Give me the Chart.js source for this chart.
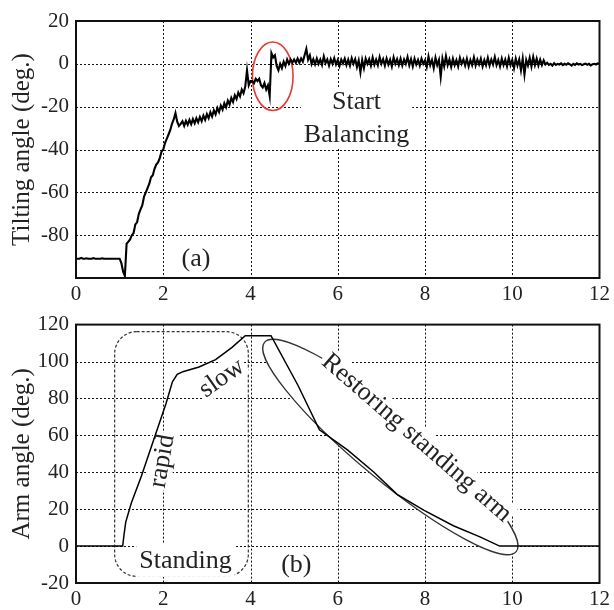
<!DOCTYPE html>
<html><head><meta charset="utf-8">
<script src="https://cdn.jsdelivr.net/npm/chart.js@4"></script>
<style>
html,body{margin:0;padding:0;background:#fff;}
#wrap{position:relative;width:614px;height:610px;overflow:hidden;}
canvas{position:absolute;left:0;}
</style></head><body>
<div id="wrap">
<canvas id="c1" width="614" height="305" style="top:0"></canvas>
<canvas id="c2" width="614" height="305" style="top:305px"></canvas>
</div>
<script>
// ---------- data ----------
const xTicks = [0, 2, 4, 6, 8, 10, 12];
const tiltTicks = [20, 0, -20, -40, -60, -80];
const armTicks = [120, 100, 80, 60, 40, 20, 0, -20];

// (a) tilting angle, sampled every 0.04 s from 0 to 12 s
const tiltStep = 0.04;
const tiltValues = [
  // 0.00 - 0.96
  -91,-91,-91,-90.6,-91,-91,-90.8,-91,-91,-91,-90.7,-91,-91,-91,-91,-90.8,-91,-91,-91,-91,-91,-91,-91,-91,-91,
  // 1.00 - 1.20
  -91,-93,-97,-99,-84,-83,
  // 1.24 - 2.40
  -82,-80,-79,-75,-74,-70,-68,-66,-62,-60,-58,-56,-53,-52,-49,-47,-46,-44,-41,-40,-37,-35,-33,-31,-28,-26,-23,-27,-29,-28,
  // 2.44 - 3.92
  -26.8,-29.0,-26.6,-28.4,-26.2,-28.2,-25.8,-27.8,-25.4,-27.3,-24.8,-26.8,-24.2,-26.2,-23.5,-25.4,-22.6,-24.6,-21.7,-23.6,
  -20.6,-22.5,-19.5,-21.4,-18.4,-20.3,-17.2,-19.0,-15.9,-17.8,-14.7,-16.4,-13.4,-15.2,-12.0,-13.7,-10.6,-3,
  // 3.96 - 4.00
  -10,-8,
  // 4.04 - 5.40
  -8,-9,-7,-8,-7,-10,-11,-9,-12,-10,-15,5,3,4,-1,-3,0,-2,1,-1,2,0,2,0.5,2,0.5,2.5,0.5,2.5,1,4,7,2,4,0,
  // 5.44 - 10.76
  2.2,-0.2,2.5,0,2,-0.5,3.5,0.3,2,-0.8,
  2.2,0,2.6,-0.3,1.8,-1,2,0.2,2.4,-0.6,
  2,-0.8,2.6,0,2.2,-1.5,1.6,-4,1.8,-2,
  2.4,0,2.2,-0.8,3,-0.4,2,-0.6,3.2,0,
  2.2,-0.8,2.5,-0.3,2,-1.2,3,0,2.2,-0.6,
  2.4,-0.8,2,0,3.2,-0.6,2.2,-1.2,2.4,-0.3,
  1.8,-0.8,2.4,0,1.6,-1.4,3.4,-0.6,1.8,-2,
  2.8,-0.6,1.8,-6,2.4,-1.2,3.6,-0.6,2,-1.4,
  2.4,-0.6,1.8,-1.2,2.8,0,2,-0.8,2.4,-1.2,
  1.8,-0.6,3,-0.8,2,-0.3,2.4,-1.2,1.8,-0.6,
  2.8,-0.8,2,-0.3,3.2,-0.6,1.8,-1.2,2.4,-0.6,
  2,-1.2,2.8,-0.6,1.8,-2,2.4,-0.8,2,-3,
  2.4,-5,1.8,-0.8,2.8,-1.2,3.2,-0.6,2.4,-0.8,
  2,-0.6,1.6,-0.3,
  // 10.80 - 12.00
  0.5,-0.5,0,-0.8,0.3,-0.5,0,-0.3,0.2,-0.6,0,-0.4,0.3,-0.2,-0.8,0,-0.5,0.2,-0.3,0,-0.6,-0.2,0.1,-0.4,0,-0.7,-0.2,0,-0.3,0.2,0
];

// (b) arm angle
const armTimes  = [0, 1.07, 1.10, 1.14, 1.27, 1.50, 1.83, 2.06, 2.21, 2.32, 2.45, 2.82, 3.20, 3.57, 3.88, 4.47, 5.09, 5.58, 6.23, 6.83, 7.36, 7.97, 8.65, 9.26, 9.71, 12];
const armValues = [0, 0, 6, 13, 23.5, 38, 61, 77, 89, 93, 94.5, 97, 101, 107.5, 114, 114, 87, 63, 52, 40, 28, 19.5, 11, 5, 0, 0];

// ---------- styling / helpers ----------
const FONT = '"Liberation Serif", "Times New Roman", serif';
Chart.defaults.color = '#222';
Chart.defaults.font.family = FONT;

function drawLabel(ctx, px, py, l) {
  ctx.save();
  ctx.translate(px, py);
  ctx.rotate((l.rot || 0) * Math.PI / 180);
  ctx.font = l.size + 'px ' + FONT;
  const w = Math.max(...l.lines.map(s => ctx.measureText(s).width)) + 2 * l.padX;
  const h = l.lines.length * l.gap + 2 * l.padY;
  ctx.fillStyle = '#fff';
  ctx.fillRect(-w / 2, -h / 2, w, h);
  ctx.fillStyle = '#222';
  ctx.textAlign = 'center';
  ctx.textBaseline = 'middle';
  l.lines.forEach((s, k) => ctx.fillText(s, 0, (k - (l.lines.length - 1) / 2) * l.gap + 1));
  ctx.restore();
}

function notesPlugin(cfg) {
  return {
    id: 'notes',
    beforeDatasetsDraw(chart) {
      const ctx = chart.ctx, xs = chart.scales.x, ys = chart.scales.y, a = chart.chartArea;
      ctx.save();
      ctx.beginPath();
      ctx.rect(a.left, a.top, a.right - a.left, a.bottom - a.top);
      ctx.clip();
      // dotted grid
      ctx.strokeStyle = '#111';
      ctx.lineWidth = 1;
      ctx.setLineDash([2, 2]);
      xTicks.forEach(v => {
        const px = Math.round(xs.getPixelForValue(v)) + 0.5;
        if (px < a.left + 2 || px > a.right - 2) return;
        ctx.beginPath(); ctx.moveTo(px, a.top); ctx.lineTo(px, a.bottom); ctx.stroke();
      });
      ys.ticks.forEach(t => {
        const py = Math.round(ys.getPixelForValue(t.value)) + 0.5;
        if (py < a.top + 2 || py > a.bottom - 2) return;
        ctx.beginPath(); ctx.moveTo(a.left, py); ctx.lineTo(a.right, py); ctx.stroke();
      });
      (cfg.boxes || []).forEach(b => {
        const x0 = xs.getPixelForValue(b.from[0]), y0 = ys.getPixelForValue(b.from[1]);
        const x1 = xs.getPixelForValue(b.to[0]), y1 = ys.getPixelForValue(b.to[1]);
        ctx.beginPath();
        ctx.roundRect(x0, y0, x1 - x0, y1 - y0, b.radius);
        ctx.setLineDash(b.dash);
        ctx.lineWidth = b.width;
        ctx.strokeStyle = b.color;
        ctx.stroke();
      });
      (cfg.ellipses || []).forEach(e => {
        let cx, cy, ra, rb, ang;
        if (e.from) {
          const x1 = xs.getPixelForValue(e.from[0]), y1 = ys.getPixelForValue(e.from[1]);
          const x2 = xs.getPixelForValue(e.to[0]), y2 = ys.getPixelForValue(e.to[1]);
          cx = (x1 + x2) / 2; cy = (y1 + y2) / 2;
          ra = Math.hypot(x2 - x1, y2 - y1) / 2; rb = e.minor;
          ang = Math.atan2(y2 - y1, x2 - x1);
        } else {
          cx = xs.getPixelForValue(e.center[0]); cy = ys.getPixelForValue(e.center[1]);
          ra = Math.abs(xs.getPixelForValue(e.center[0] + e.rx) - cx);
          rb = Math.abs(ys.getPixelForValue(e.center[1] + e.ry) - cy);
          ang = 0;
        }
        ctx.beginPath();
        ctx.ellipse(cx, cy, ra, rb, ang, 0, Math.PI * 2);
        if (e.fill) { ctx.fillStyle = e.fill; ctx.fill(); }
        ctx.setLineDash([]);
        ctx.lineWidth = e.width;
        ctx.strokeStyle = e.color;
        ctx.stroke();
      });
      (cfg.labels || []).forEach(l => {
        drawLabel(ctx, xs.getPixelForValue(l.at[0]), ys.getPixelForValue(l.at[1]), l);
      });
      ctx.restore();
    },
    afterDraw(chart) {
      const {ctx, chartArea: a} = chart;
      ctx.save();
      ctx.setLineDash([]);
      ctx.lineWidth = 2;
      ctx.strokeStyle = '#111';
      ctx.strokeRect(a.left, a.top, a.right - a.left, a.bottom - a.top);
      ctx.restore();
    }
  };
}

function makeChart(id, points, yMin, yMax, yTickList, title, padTop, notes, lineW) {
  return new Chart(document.getElementById(id), {
    type: 'line',
    data: { datasets: [{ data: points, borderColor: '#000', borderWidth: lineW, pointRadius: 0, tension: 0, fill: false }] },
    options: {
      responsive: false, animation: false, events: [],
      layout: { padding: { top: padTop, right: 10, bottom: 0, left: 0 } },
      plugins: { legend: { display: false }, tooltip: { enabled: false } },
      scales: {
        x: {
          type: 'linear', min: 0, max: 12,
          afterFit: s => { s.height = 27; },
          ticks: { stepSize: 2, padding: 4, color: '#222', font: { size: 21, family: FONT },
                   callback: v => xTicks.includes(v) ? String(v) : '' },
          grid: { display: false, drawTicks: false, tickLength: 0 },
          border: { display: false }
        },
        y: {
          min: yMin, max: yMax,
          afterFit: s => { s.width = 76; },
          ticks: { stepSize: 20, padding: 7, color: '#222', font: { size: 21, family: FONT },
                   callback: v => yTickList.includes(v) ? String(v) : '' },
          grid: { display: false, drawTicks: false, tickLength: 0 },
          border: { display: false },
          title: { display: true, text: title, color: '#222', font: { size: 25, family: FONT }, padding: { top: 7, bottom: 0 } }
        }
      }
    },
    plugins: [notesPlugin(notes)]
  });
}

const tiltPoints = tiltValues.map((v, i) => ({ x: +(i * tiltStep).toFixed(2), y: v }));
const armPoints = armTimes.map((t, i) => ({ x: t, y: armValues[i] }));

makeChart('c1', tiltPoints, -100, 20, tiltTicks, 'Tilting angle (deg.)', 21, {
  ellipses: [{ center: [4.51, -5.8], rx: 0.466, ry: 16, color: '#e53935', width: 1.6 }],
  labels: [
    { lines: ['Start', 'Balancing'], at: [6.43, -25.3], size: 26, gap: 33, padX: 3, padY: -3 },
    { lines: ['(a)'], at: [2.75, -90.7], size: 26, gap: 28, padX: 3, padY: 0 }
  ]
}, 2.1);

makeChart('c2', armPoints, -20, 120, armTicks, 'Arm angle (deg.)', 16, {
  boxes: [{ from: [0.886, 116.2], to: [3.95, -16.4], radius: 22, dash: [3, 2], width: 1.2, color: '#333' }],
  ellipses: [{ from: [4.32, 110.4], to: [10.09, -3], minor: 33, fill: '#fff', color: '#333', width: 1.3 }],
  labels: [
    { lines: ['rapid'], at: [1.96, 46.1], rot: -80, size: 26, gap: 26, padX: 2, padY: 0 },
    { lines: ['slow'], at: [3.33, 91.4], rot: -35, size: 26, gap: 26, padX: 2, padY: 0 },
    { lines: ['Standing'], at: [2.51, -7.5], size: 26, gap: 30, padX: 3, padY: 2 },
    { lines: ['(b)'], at: [5.05, -9.7], size: 26, gap: 28, padX: 3, padY: 0 },
    { lines: ['Restoring standing arm'], at: [7.82, 59], rot: 41, size: 26, gap: 26, padX: 2, padY: 0 }
  ]
}, 1.5);
</script>
</body></html>
